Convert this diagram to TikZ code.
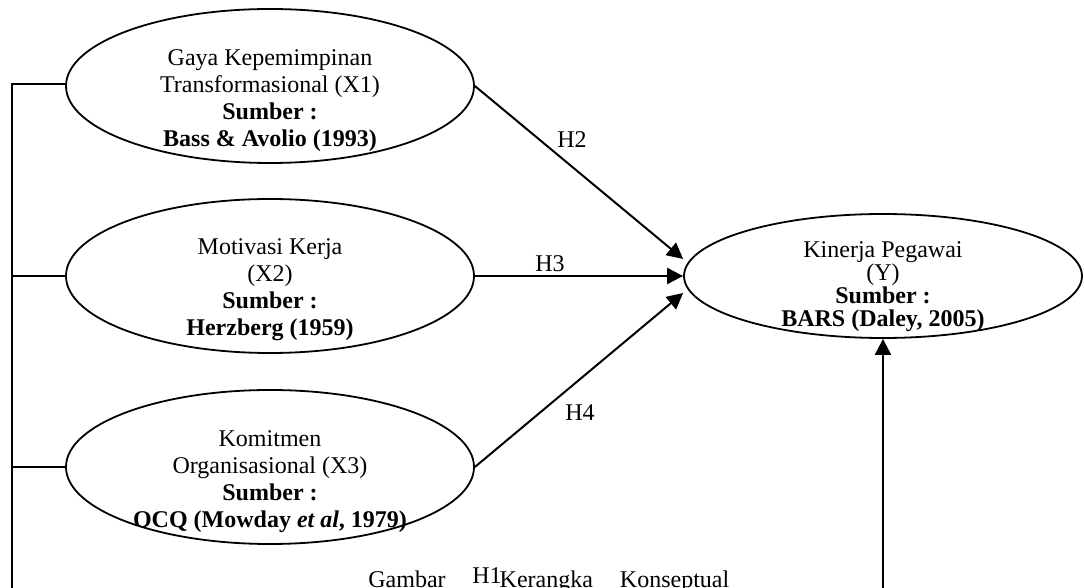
\documentclass[tikz,border=0pt]{standalone}
\usepackage{fontspec}
\setmainfont{Liberation Serif}
\usetikzlibrary{shapes.geometric}
\usetikzlibrary{arrows.meta}

\tikzset{
  konstruk/.style={draw, ellipse, line width=0.9pt, inner sep=0pt, minimum width=204pt, minimum height=77pt},
  isi/.style={align=center, inner sep=0pt},
  garis/.style={line width=1pt},
  panah/.style={line width=1pt, -{Triangle[length=8pt,width=8pt]}},
  hlabel/.style={inner sep=0pt}
}

\begin{document}
\begin{tikzpicture}[x=0.5pt, y=-0.5pt, font=\fontsize{12}{13.5}\selectfont]

\useasboundingbox (0,0) rectangle (1084,588);
\clip (0,0) rectangle (1084,588);

\node[konstruk] (x1) at (270,86) {};
\node[isi] (x1txt) at (270,101)
{Gaya Kepemimpinan\\Transformasional (X1)\\\textbf{Sumber :}\\\textbf{Bass \& Avolio (1993)}};

\node[konstruk] (x2) at (270,276) {};
\node[isi] (x2txt) at (270,290)
{Motivasi Kerja\\(X2)\\\textbf{Sumber :}\\\textbf{Herzberg (1959)}};

\node[konstruk] (x3) at (270,467) {};
\node[isi] (x3txt) at (270,482)
{Komitmen\\Organisasional (X3)\\\textbf{Sumber :}\\\textbf{OCQ (Mowday \textit{et al}, 1979)}};

\node[konstruk, minimum width=199pt, minimum height=62pt] (y) at (883,276) {};
\node[isi, font=\fontsize{12}{11.5}\selectfont] (ytxt) at (883,287)
{Kinerja Pegawai\\(Y)\\\textbf{Sumber :}\\\textbf{BARS (Daley, 2005)}};


\coordinate (ki1) at (12,84);
\coordinate (ki2) at (12,276);
\coordinate (ki3) at (12,467);
\coordinate (kibawah) at (12,610);

\draw[panah] (x1.west |- ki1) -- (ki1) -- (kibawah) -| (y.south);
\draw[garis] (x2.west) -- (ki2);
\draw[garis] (x3.west) -- (ki3);

\draw[panah] (x1.east) -- ([yshift=8.5pt]y.west);
\draw[panah] (x2.east) -- (y.west);
\draw[panah] (x3.east) -- ([yshift=-8.5pt]y.west);


% labellings
\node[hlabel] (h1) at (487,576) {H1};
\node[hlabel] (h2) at (572,140) {H2};
\node[hlabel] (h3) at (550,264) {H3};
\node[hlabel] (h4) at (580,413) {H4};

\node[hlabel, anchor=base west] (judul) at (368,588)
{Gambar\hspace{27pt}Kerangka\hspace{13.5pt}Konseptual};

\end{tikzpicture}
\end{document}
